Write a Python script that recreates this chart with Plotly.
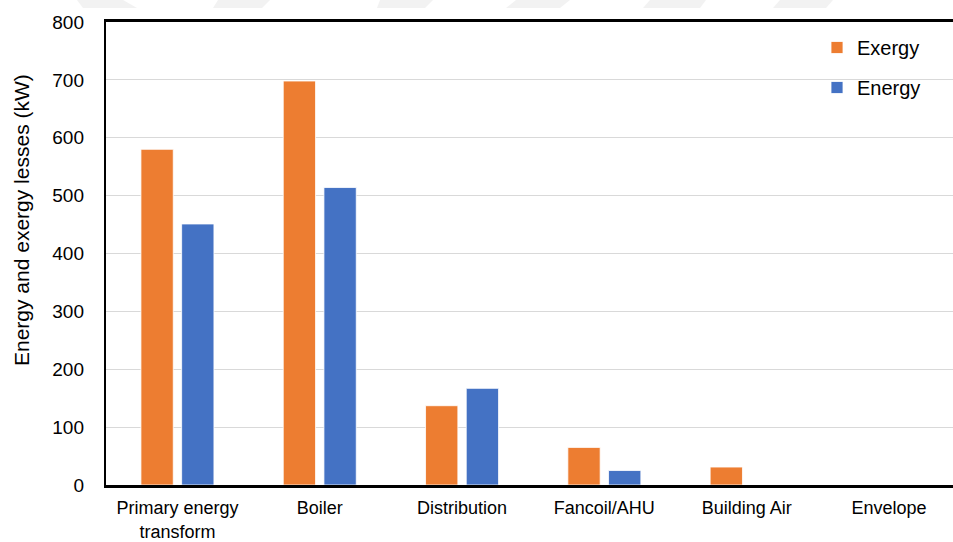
import plotly.graph_objects as go

# Loss breakdown per subsystem (kW)
categories = ["Primary energy<br>transform", "Boiler", "Distribution",
              "Fancoil/AHU", "Building Air", "Envelope"]
exergy_kw = [580, 698, 137, 65, 31, 0]
energy_kw = [451, 514, 167, 25, 0, 0]
y_ticks = [0, 100, 200, 300, 400, 500, 600, 700, 800]

ORANGE = "#ED7D31"
BLUE = "#4472C4"
FONT = "Arial, 'Liberation Sans', sans-serif"

W, H = 953, 542
ML, MT, MB, MR = 106, 22, 57, 0
PW, PH = W - ML - MR, H - MT - MB


def px_to_paper(px, py):
    return (px - ML) / PW, (H - MB - py) / PH


fig = go.Figure()
fig.add_trace(go.Bar(
    x=categories, y=exergy_kw, name="Exergy", legendgroup="ex",
    marker=dict(color=ORANGE, line=dict(color="white", width=0.8)),
))
fig.add_trace(go.Bar(
    x=categories, y=energy_kw, name="Energy", legendgroup="en",
    marker=dict(color=BLUE, line=dict(color="white", width=0.8)),
))

# faint banner strip along the very top of the page
shapes = []
for tl, tr, bl, br in [(77, 123, 83, 137), (218, 270, 213, 262),
                       (380, 433, 377, 425), (516, 570, 506, 560),
                       (650, 706, 643, 700), (780, 833, 773, 826)]:
    pts = [px_to_paper(tl, 0), px_to_paper(tr, 0),
           px_to_paper(br, 8), px_to_paper(bl, 8)]
    path = "M " + " L ".join(f"{x:.5f},{y:.5f}" for x, y in pts) + " Z"
    shapes.append(dict(type="path", path=path, xref="paper", yref="paper",
                       fillcolor="#f2f2f2", line=dict(width=0), layer="above"))

# white panel behind the legend, covering the gridline there
bx0, by0 = px_to_paper(801, 112)
bx1, by1 = px_to_paper(W, 28)
shapes.append(dict(type="rect", xref="paper", yref="paper",
                   x0=bx0, x1=bx1, y0=by0, y1=by1,
                   fillcolor="white", line=dict(width=0), layer="between"))

lx, ly = px_to_paper(801, 28)
tx, ty = px_to_paper(22, 220)

fig.update_layout(
    width=W, height=H,
    margin=dict(l=ML, r=MR, t=MT, b=MB, autoexpand=False),
    paper_bgcolor="white", plot_bgcolor="white",
    font=dict(family=FONT, size=19, color="#000000"),
    barmode="group", bargap=0.428, bargroupgap=0.206,
    showlegend=True,
    legend=dict(x=lx, y=ly, xanchor="left", yanchor="top",
                bgcolor="rgba(0,0,0,0)", borderwidth=0,
                font=dict(family=FONT, size=20, color="#000000"),
                traceorder="grouped", tracegroupgap=11,
                indentation=16),
    xaxis=dict(
        type="category", range=[-0.502, 5.45],
        showline=True, linecolor="#000000", linewidth=2.6, mirror=True,
        showgrid=False, ticks="", ticklabelstandoff=5,
        tickfont=dict(family=FONT, size=18, color="#000000"),
    ),
    yaxis=dict(
        range=[0, 800], tickvals=y_ticks,
        showline=True, linecolor="#000000", linewidth=2.4,
        showgrid=True, gridcolor="#d9d9d9", gridwidth=1,
        zeroline=False, ticks="", ticklabelstandoff=16,
        tickfont=dict(family=FONT, size=19, color="#000000"),
    ),
    annotations=[dict(
        text="Energy and exergy lesses (kW)", textangle=-90,
        x=tx, y=ty, xref="paper", yref="paper",
        xanchor="center", yanchor="middle", showarrow=False,
        font=dict(family=FONT, size=21, color="#000000"),
    )],
    shapes=shapes,
)

fig.write_html("out.html")
